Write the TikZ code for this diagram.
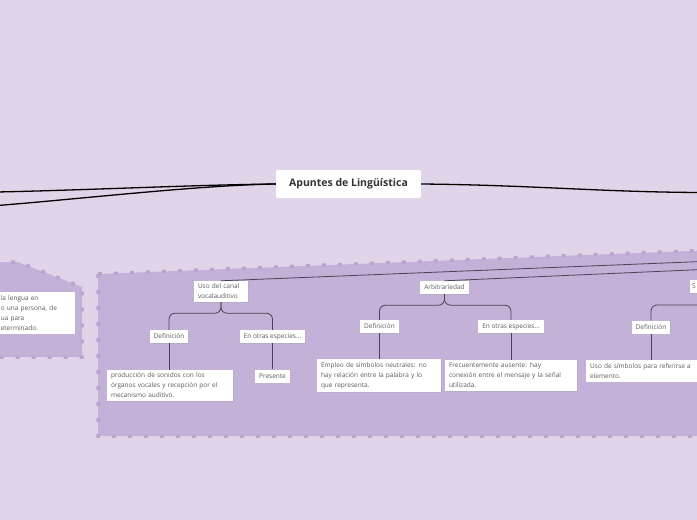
\documentclass[tikz,border=0pt]{standalone}
\usepackage{fontspec}
\setmainfont{Open Sans}
\usepackage{xcolor}
\usetikzlibrary{shadows}

\definecolor{bgpurple}{HTML}{E0D4E9}
\definecolor{areapurple}{HTML}{C4B1D7}
\definecolor{areaedge}{HTML}{BBA5D0}
\definecolor{textgray}{HTML}{5A5A5A}
\definecolor{linkgray}{HTML}{4A4452}

\begin{document}
\begin{tikzpicture}[
    x=1pt, y=-1pt,
    area/.style={fill=areapurple, draw=areaedge, line width=3.5pt, dash pattern=on 4pt off 12pt},
    topic/.style={rectangle, fill=white, text=textgray, inner xsep=4pt, inner ysep=3pt, minimum height=13pt,
        font=\fontsize{6.5}{10}\selectfont, drop shadow={shadow xshift=0.6pt, shadow yshift=-0.8pt, opacity=0.15}},
    note/.style={topic, align=left},
    title/.style={rectangle, fill=white, rounded corners=2pt, text=black!80, minimum width=145pt, minimum height=28pt,
        font=\fontsize{10.5}{13}\selectfont\bfseries},
    mainlink/.style={draw=black, line width=1.3pt},
    link/.style={draw=linkgray, line width=0.8pt},
    branch/.style={link, rounded corners=6pt},
]
    \useasboundingbox (0,0) rectangle (697,520);
    \clip (0,0) rectangle (697,520);
    \fill[bgpurple] (0,0) rectangle (697,520);

    % grouped areas
    \draw[area] (-5,262) -- (18,262) -- (82,287) -- (82,357) -- (-5,357) -- cycle;
    \draw[area] (98,274) -- (702,250.5) -- (702,436) -- (98,436) -- cycle;

    % central topic
    \node[title] (root) at (348.5,184) {Apuntes de Lingüística};
    \coordinate (leftA) at (-3,192);
    \coordinate (leftB) at (-3,205.5);
    \coordinate (rightA) at (700,192.5);
    \draw[mainlink] (root.west) .. controls (190,185) and (90,190) .. (leftA);
    \draw[mainlink] (root.west) .. controls (200,185) and (70,200) .. (leftB);
    \draw[mainlink] (root.east) .. controls (530,185) and (600,192) .. (rightA);

    % left group
    \node[note, text width=70pt, anchor=east] (leftnote) at (75,313) {la lengua en\\o una persona, de\\ua para\\eterminado.};

    % canal vocal-auditivo
    \node[topic, text width=46pt, align=left, inner ysep=3pt] (canal) at (221,291.5) {Uso del canal\\vocalauditivo};
    \node[topic] (defcanal) at (169,336.5) {Definición};
    \node[topic] (otrascanal) at (272.5,336.5) {En otras especies...};
    \node[note, text width=118pt] (produccion) at (170,385.5) {producción de sonidos con los\\órganos vocales y recepción por el\\mecanismo auditivo.};
    \node[topic] (presente) at (272.5,376) {Presente};

    % arbitrariedad
    \node[topic] (arbitrariedad) at (444.5,287.5) {Arbitrariedad};
    \node[topic] (defarbi) at (379.5,326.5) {Definición};
    \node[topic] (otrasarbi) at (511,326.5) {En otras especies...};
    \node[note, text width=116pt] (empleo) at (379,375.5) {Empleo de símbolos neutrales: no\\hay relación entre la palabra y lo\\que representa.};
    \node[note, text width=124pt] (frecuente) at (511,375.5) {Frecuentemente ausente: hay\\conexión entre el mensaje y la señal\\utilizada.};

    % third branch (cut at the right edge)
    \node[topic, anchor=west, inner xsep=2pt, text width=40pt, align=left] (sbranch) at (690,286.5) {S};
    \node[topic] (defs) at (651,327) {Definición};
    \node[note, anchor=west, text width=140pt] (simbolos) at (586,371) {Uso de símbolos para referirse a\\elemento.};
    \coordinate (sjoin) at (700,305);

    % connectors
    \coordinate (upA) at (702,261.5);
    \coordinate (upB) at (702,269.5);
    \draw[link] (canal.north) -- (upA);
    \draw[link] (arbitrariedad.north) -- (upB);

    \draw[branch] (canal.south) -- ++(0,11) -| (defcanal.north);
    \draw[branch] (canal.south) -- ++(0,11) -| (otrascanal.north);
    \draw[link] (defcanal.south) -- (defcanal.south |- produccion.north);
    \draw[link] (otrascanal.south) -- (presente.north);

    \draw[branch] (arbitrariedad.south) -- ++(0,11) -| (defarbi.north);
    \draw[branch] (arbitrariedad.south) -- ++(0,11) -| (otrasarbi.north);
    \draw[link] (defarbi.south) -- (defarbi.south |- empleo.north);
    \draw[link] (otrasarbi.south) -- (otrasarbi.south |- frecuente.north);

    \draw[branch] (sjoin) -| (defs.north);
    \draw[link] (defs.south) -- (defs.south |- simbolos.north);
\end{tikzpicture}
\end{document}
